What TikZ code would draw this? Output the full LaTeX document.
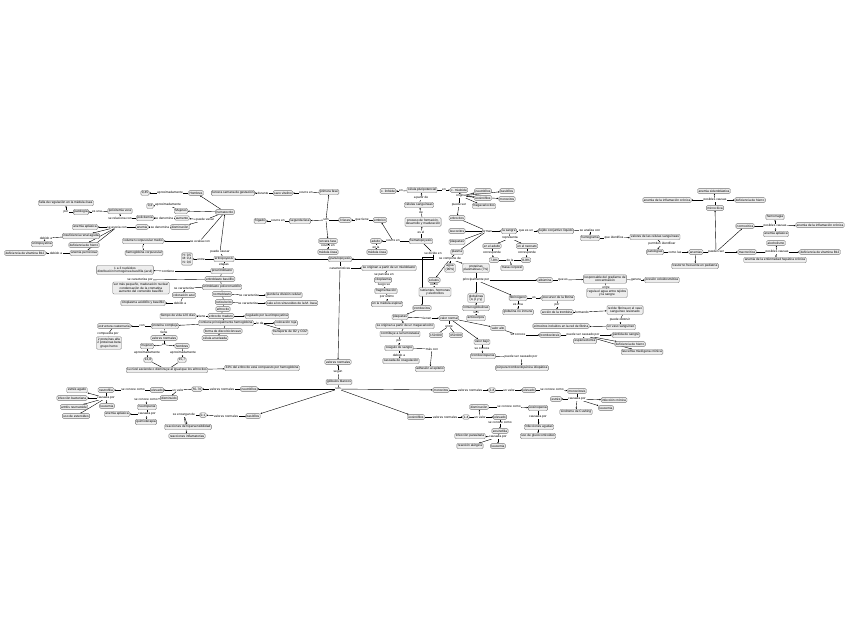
\documentclass[tikz,border=0pt]{standalone}
\usepackage{fontspec}
\setmainfont{Liberation Sans}
\usetikzlibrary{arrows.meta,backgrounds}
\newcommand{\mapfont}{\fontsize{3.2}{3.6}\selectfont}
\begin{document}
\begin{tikzpicture}[x=1pt,y=-1pt,
    concept/.style={draw=black!55,fill=black!7,rounded corners=1.2pt,line width=0.35pt,inner xsep=1pt,inner ysep=1.2pt,font=\mapfont,align=center},
    link/.style={fill=white,inner sep=0.3pt,font=\mapfont,align=center},
    arr/.style={-{Stealth[length=1.6pt,width=1.4pt]}}
  ]
\useasboundingbox (0,0) rectangle (848,638);
% hematocrito y anemias
\node[concept] (falla) at (66,203) {falla de regulación en la médula ósea};
\node[link] (lpor) at (66,212) {por};
\node[concept] (patol) at (81,212) {patología};
\node[link] (lesuna) at (97,212) {es una};
\node[concept] (polv) at (120,211) {policitemia vera};
\node[link] (lrel) at (120,218) {se relaciona con};
\node[concept] (polic) at (145,218) {policitemia};
\node[link] (lden1) at (164,218) {se denomina};
\node[concept] (aum) at (182,218) {aumento};
\node[concept] (dism) at (180,227) {disminución};
\node[link] (lden2) at (160,227) {se denomina};
\node[concept] (anem1) at (142,227) {anemia};
\node[link] (laso) at (117,227) {se asocia con};
\node[concept] (aapl1) at (85,227) {anemia aplásica};
\node[concept] (irenal) at (81,236) {insuficiencia renal aguda};
\node[concept] (dhierro1) at (84,245) {deficiencia de hierro};
\node[concept] (apern) at (84,253) {anemia perniciosa};
\node[link] (ldeb1) at (46,238) {debido a};
\node[concept] (epo) at (42,244) {eritropoyetina};
\node[link] (ldeb2) at (56,253) {debido a};
\node[concept] (b12a) at (25,253) {deficiencia de vitamina B12};
\node[concept] (hto) at (225,212) {hematocrito};
\node[link] (lvar) at (205,220) {puede variar};
\node[concept] (hom) at (196,193) {Hombres};
\node[link] (lap1) at (170,193) {aproximadamente};
\node[concept] (n045) at (145,193) {0,45};
\node[concept] (muj) at (181,211) {Mujeres};
\node[link] (lap2) at (168,205) {aproximadamente};
\node[concept] (n04) at (150,206) {0,4};
\node[link] (lval) at (200,241) {se evalúa con};
\node[concept] (vcm) at (143,241) {volumen corpuscular medio};
\node[link] (ly) at (143,247) {y};
\node[concept] (hcm) at (144,253) {hemoglobina corpuscular};
\node[concept] (rng) at (187,259) {H: 0,5\\M: 0,4\\N: 0,6};
\node[link] (lentre1) at (201,259) {entre};
% eritropoyesis
\node[concept] (eritrop) at (224,259) {eritropoyesis};
\node[link] (lpcau) at (220,252) {puede causar};
\node[link] (letap) at (224,265) {etapas};
\node[concept] (proer) at (222,271) {proeritroblasto};
\node[concept] (ebas) at (220,279) {eritroblasto basófilo};
\node[concept] (epol) at (222,287) {eritroblasto policromatófilo};
\node[concept] (norm) at (222,294) {normoblasto};
\node[concept] (retic) at (224,302) {reticulocito};
\node[concept] (erito) at (223,309) {eritrocito};
\node[concept] (emad) at (221,316) {eritrocito maduro};
\node[concept] (regepo) at (267,316) {regulado por la eritropoyetina};
\node[link] (ltien1) at (202,316) {tiene};
\node[concept] (vida) at (178,316) {tiempo de vida 120 días};
\node[concept] (chb) at (226,323) {contiene principalmente hemoglobina};
\node[link] (lleda) at (260,323) {le da};
\node[concept] (roja) at (286,323) {coloración roja};
\node[concept] (trans) at (290,332) {transporte de O2 y CO2};
\node[concept] (disco) at (223,331) {forma de disco bicóncavo};
\node[concept] (anuc) at (215,338) {célula anucleada};
\node[concept] (nucl) at (125,270) {1 a 3 nucléolos\\distribución homogénea basófila (azul)};
\node[link] (lcont) at (168,271) {contiene};
\node[link] (lcar1) at (140,280) {se caracteriza por};
\node[concept] (peq) at (141,288) {ser más pequeño, maduración nuclear\\condensación de la cromatina\\aumento del contenido basófilo};
\node[link] (lcar2) at (184,288) {se caracteriza};
\node[concept] (azul) at (184,295) {coloración azul};
\node[link] (ldeb3) at (180,303) {debido a};
\node[concept] (acid) at (143,303) {citoplasma acidófilo y basófilo};
\node[link] (lcar3) at (249,295) {se caracteriza};
\node[concept] (pdiv) at (284,295) {pierde la división celular};
\node[link] (lcar4) at (248,303) {se caracteriza};
\node[concept] (sinus) at (292,303) {sale a los sinusoides de la M. ósea};
% hemoglobina
\node[concept] (pcomp) at (165,326) {proteína compleja};
\node[link] (lcon) at (142,326) {con};
\node[concept] (ecuat) at (114,326) {estructura cuaternaria};
\node[link] (lcompp) at (108,334) {compuesta por};
\node[concept] (tri) at (109,343) {2 proteínas alfa\\2 proteínas beta\\grupo hemo};
\node[link] (ltiene2) at (164,332) {tiene};
\node[concept] (vnh) at (164,338) {valores normales};
\node[link] (len3) at (164,345) {en};
\node[concept] (mujh) at (147,346) {mujeres};
\node[concept] (homh) at (182,346) {hombres};
\node[link] (lap3) at (147,353) {aproximadamente};
\node[link] (lap4) at (183,353) {aproximadamente};
\node[concept] (v138) at (148,360) {13,8};
\node[concept] (v157) at (182,360) {15,7};
\node[concept] (niv) at (167,370) {su nivel asciende o disminuye al igual que los eritrocitos};
\node[concept] (c33) at (262,368) {33\% del eritrocito está compuesto por hemoglobina};
% fases
\node[concept] (terc1) at (233,193) {tercera semana de gestación};
\node[link] (ldur) at (263,193) {durante};
\node[concept] (saco) at (283,193) {saco vitelino};
\node[link] (loc1) at (306,193) {ocurre en};
\node[concept] (prim) at (329,192) {primera fase};
\node[concept] (hig) at (260,221) {hígado};
\node[link] (loc2) at (278,221) {ocurre en};
\node[concept] (segf) at (300,221) {segunda fase};
\node[link] (lson1) at (326,220) {son};
\node[concept] (tresf) at (345,220) {3 fases};
\node[link] (lqtiene) at (362,220) {que tiene};
\node[concept] (embr) at (380,220) {embrión};
\node[concept] (tercf) at (328,241) {tercera fase};
\node[link] (loc3) at (328,246) {ocurre en};
\node[concept] (mo1) at (328,252) {médula ósea};
\node[concept] (adul) at (376,241) {adulto};
\node[link] (locA) at (393,241) {ocurre en};
\node[link] (lenla) at (376,247) {en la};
\node[concept] (mo2) at (377,252) {médula ósea};
\node[concept] (hemat) at (421,241) {hematopoyesis};
\node[link] (lesel) at (421,232) {es el};
\node[concept] (proc) at (423,222) {proceso de formación,\\desarrollo y maduración};
\node[link] (lde1) at (421,212) {de};
\node[concept] (csang) at (419,205) {células sanguíneas};
\node[link] (lapd) at (421,198) {a partir de};
\node[concept] (pluri) at (422,190) {célula pluripotencial};
\node[link] (len1) at (401,191) {en};
\node[concept] (lin) at (388,191) {c. linfoide};
\node[link] (len2) at (444,190) {en};
\node[concept] (mie) at (459,190) {c. mieloide};
\node[link] (lorig) at (461,196) {origina};
\node[concept] (neu1) at (483,191) {neutrófilos};
\node[concept] (eos1) at (483,198) {eosinófilos};
\node[concept] (megc) at (484,206) {megacariocitos};
\node[concept] (bas1) at (507,191) {basófilos};
\node[concept] (mon1) at (507,199) {monocitos};
\node[link] (lpser) at (459,205) {puede ser};
\node[concept] (erit) at (457,218) {eritrocitos};
\node[concept] (leuco) at (457,231) {leucocitos};
\node[concept] (plaq1) at (457,242) {plaquetas};
\node[concept] (plasm) at (457,252) {plasma};
% sangre y hemograma
\node[link] (lforman) at (487,231) {forman};
\node[concept] (sangre) at (509,231) {la sangre};
\node[link] (lqes) at (526,231) {que es un};
\node[concept] (tejido) at (556,231) {tejido conjuntivo líquido};
\node[link] (lanal) at (590,230) {se analiza con};
\node[concept] (hgrama) at (590,238) {hemograma};
\node[link] (lident) at (614,238) {que identifica};
\node[concept] (valcs) at (655,237) {valores de las células sanguíneas};
\node[link] (lperm) at (662,244) {permiten identificar};
\node[concept] (patolg) at (655,252) {patologías};
\node[link] (lcomo) at (675,252) {como las};
\node[concept] (anemias) at (696,252) {anemias};
\node[link] (lpser2) at (716,252) {pueden ser};
\node[concept] (micro) at (715,208) {microcítica};
\node[concept] (normo) at (745,226) {normocítica};
\node[concept] (macro) at (747,252) {macrocítica};
\node[link] (lpc1) at (715,200) {posibles causas};
\node[concept] (aic1) at (667,200) {anemia de la inflamación crónica};
\node[concept] (dh3) at (750,200) {deficiencia de hierro};
\node[concept] (sidero) at (714,191) {anemia sideroblástica};
\node[link] (lpc2) at (775,226) {posibles causas};
\node[concept] (hemorr) at (775,217) {hemorragia};
\node[concept] (aic2) at (820,225) {anemia de la inflamación crónica};
\node[concept] (aapl2) at (776,234) {anemia aplásica};
\node[link] (lpc3) at (777,252) {posibles causas};
\node[concept] (alcoh) at (776,243) {alcoholismo};
\node[concept] (b12b) at (820,252) {deficiencia de vitamina B12};
\node[concept] (hepat) at (775,260) {anemia de la enfermedad hepática crónica};
\node[concept] (pedia) at (695,266) {trastorno frecuente en pediatría};
\node[link] (lrepr) at (510,238) {representa};
\node[concept] (enadu) at (492,246) {en el adulto};
\node[concept] (enneo) at (527,246) {en el neonato};
\node[link] (lcor1) at (492,253) {corresponde};
\node[link] (lcor2) at (527,253) {corresponde};
\node[concept] (p78) at (494,260) {7-8\%};
\node[link] (ldela) at (510,260) {de la};
\node[concept] (p89) at (526,260) {8-9\%};
\node[concept] (masa) at (512,268) {masa corporal};
% plasma
\node[link] (lcompn) at (450,259) {se compone de};
\node[concept] (agua) at (450,268) {agua\\(90\%)};
\node[concept] (protp) at (476,268) {proteínas\\plasmáticas (7\%)};
\node[concept] (solut) at (434,280) {solutos};
\node[link] (lcomo2) at (434,285) {como};
\node[concept] (nutr) at (435,292) {nutrientes, hormonas\\y electrolitos};
\node[link] (lprin) at (476,280) {principalmente por};
\node[concept] (albu) at (545,280) {albúmina};
\node[link] (lqes2) at (563,280) {que es};
\node[concept] (grad) at (605,279) {responsable del gradiente de\\concentración};
\node[link] (lgen) at (636,280) {genera};
\node[concept] (presc) at (662,280) {presión coloidosmótica};
\node[link] (lentre3) at (606,287) {entre};
\node[concept] (regu) at (607,293) {regula el agua entre tejidos\\y la sangre};
\node[concept] (globu) at (476,298) {globulinas\\(α, β y γ)};
\node[concept] (inmun) at (476,308) {inmunoglobulinas};
\node[link] (lson2) at (476,313) {son};
\node[concept] (antic) at (476,318) {anticuerpos};
\node[concept] (fibri) at (518,298) {fibrinógeno};
\node[link] (les2) at (534,298) {es};
\node[concept] (precf) at (558,298) {precursor de la fibrina};
\node[link] (lesuna2) at (518,305) {es una};
\node[concept] (gnoin) at (518,312) {globulina no inmune};
\node[link] (lpor3) at (557,305) {por};
\node[concept] (atromb) at (557,312) {acción de la trombina};
\node[link] (lform) at (582,312) {formando};
\node[concept] (redf) at (625,310) {red de fibrina en el vaso\\sanguíneo lesionado};
\node[link] (lobst) at (620,320) {puede obstruir};
\node[concept] (vasos) at (621,327) {un vaso sanguíneo};
\node[concept] (eriin) at (561,326) {eritrocitos incluidos en la red de fibrina};
% granulopoyesis y plaquetas
\node[link] (ldivi) at (433,253) {se divide en};
\node[concept] (granu) at (340,259) {granulopoyesis};
\node[link] (lcarac) at (340,268) {características};
\node[concept] (origen) at (389,268) {se originan a partir de un mieloblasto};
\node[link] (lparc) at (384,275) {se parcela en};
\node[concept] (citop) at (383,280) {citoplasma};
\node[link] (lluego) at (384,285) {luego se};
\node[concept] (fragm) at (386,291) {fragmentación};
\node[link] (lultimo) at (387,297) {por último};
\node[concept] (mespi) at (387,304) {en la médula espinal};
\node[concept] (tromb) at (422,308) {trombocitos};
\node[concept] (plaq2) at (400,317) {plaquetas};
\node[link] (ltienen) at (427,318) {tienen};
\node[concept] (vnorm) at (449,318) {valor normal};
\node[concept] (origm) at (405,326) {se originan a partir de un megacariocito};
\node[link] (lentre4) at (449,326) {entre};
\node[concept] (n150) at (436,335) {150 000};
\node[concept] (n450) at (456,335) {450 000};
\node[concept] (hemost) at (400,334) {contribuye a la hemostasia};
\node[link] (lpor4) at (399,341) {por};
\node[concept] (coagu) at (399,348) {coágulo de sangre};
\node[link] (lmas) at (432,349) {más con};
\node[link] (ldeb4) at (399,355) {debido a};
\node[concept] (casca) at (401,361) {cascada de coagulación};
\node[concept] (adhes) at (430,369) {adhesión al epitelio};
\node[concept] (valto) at (498,328) {valor alto};
\node[link] (lsc1) at (518,335) {se conoce};
\node[concept] (tcito) at (550,335) {trombocitosis};
\node[link] (lcau1) at (583,335) {puede ser causado por};
\node[concept] (perdi) at (626,335) {pérdida de sangre};
\node[concept] (esple) at (585,341) {esplenectomía};
\node[concept] (dh4) at (630,344) {deficiencia de hierro};
\node[concept] (lmcro) at (642,352) {leucemia mielógena crónica};
\node[concept] (vbajo) at (482,342) {valor bajo};
\node[link] (lsc2) at (482,349) {se conoce};
\node[concept] (tpenia) at (483,356) {trombocitopenia};
\node[link] (lcau2) at (521,357) {puede ser causado por};
\node[concept] (purp) at (522,368) {púrpura trombocitopénica idiopática};
% leucocitos
\node[concept] (vnl) at (338,362) {valores normales};
\node[link] (lsegun) at (338,372) {según};
\node[concept] (gblanc) at (339,382) {glóbulos blancos};
\node[link] (lson3) at (338,389) {son};
\node[concept] (neut) at (249,389) {neutrófilos};
\node[link] (lvn1) at (222,389) {valores normales};
\node[concept] (n5570) at (197,389) {55-70};
\node[link] (luv1) at (178,390) {un valor};
\node[concept] (elev1) at (157,390) {elevado};
\node[link] (lscc1) at (133,390) {se conoce como};
\node[concept] (nfilia) at (106,390) {neutrofilia};
\node[link] (lcau3) at (106,398) {causada por};
\node[concept] (estra) at (77,390) {estrés agudo};
\node[concept] (infb) at (72,398) {infección bacteriana};
\node[concept] (artr) at (74,407) {artritis reumatoide};
\node[concept] (ester) at (76,416) {uso de esteroides};
\node[concept] (leuc1) at (107,406) {leucemia};
\node[concept] (dism1) at (169,398) {disminuido};
\node[link] (lscc2) at (146,400) {se conoce como};
\node[concept] (npenia) at (147,407) {neutropenia};
\node[link] (lcau4) at (147,414) {causada por};
\node[concept] (aapl3) at (117,414) {anemia aplásica};
\node[concept] (quimio) at (146,422) {quimioterapia};
\node[concept] (baso) at (253,416) {basófilos};
\node[link] (lvn2) at (226,416) {valores normales};
\node[concept] (n01) at (203,415) {0-1};
\node[link] (lenc) at (184,415) {se encargan de};
\node[concept] (hiper) at (188,427) {reacciones de hipersensibilidad};
\node[concept] (infla) at (187,436) {reacciones inflamatorias};
\node[concept] (eosi) at (416,417) {eosinófilos};
\node[link] (lvn3) at (445,417) {valores normales};
\node[concept] (n14) at (466,417) {1-4};
\node[link] (luv2) at (480,417) {un valor};
\node[concept] (elev2) at (500,417) {elevado};
\node[concept] (dism2) at (479,407) {disminución};
\node[link] (lscc3) at (509,407) {se conoce como};
\node[concept] (epenia) at (538,408) {eosinopenia};
\node[link] (lcau5) at (538,417) {causada por};
\node[concept] (infag) at (539,427) {infecciones agudas};
\node[concept] (gluco) at (538,436) {uso de glucocorticoides};
\node[link] (lscc4) at (500,423) {se conoce como};
\node[concept] (efilia) at (500,431) {eosinofilia};
\node[link] (lcau6) at (498,437) {causada por};
\node[concept] (parasi) at (470,436) {infección parasitaria};
\node[concept] (alerg) at (470,446) {reacción alérgica};
\node[concept] (leuc2) at (498,446) {leucemia};
\node[concept] (mono) at (441,390) {monocitos};
\node[link] (lvn4) at (470,390) {valores normales};
\node[concept] (n28) at (492,390) {2-8};
\node[link] (luv3) at (509,390) {un valor};
\node[concept] (elev3) at (529,390) {elevado};
\node[link] (lscc5) at (552,390) {se conoce como};
\node[concept] (mcitos) at (577,391) {monocitosis};
\node[link] (lcau7) at (577,399) {causada por};
\node[concept] (estre) at (556,399) {estrés};
\node[concept] (icron) at (614,400) {infección crónica};
\node[concept] (leuc3) at (606,408) {leucemia};
\node[concept] (cush) at (576,412) {síndrome de Cushing};

\begin{scope}[on background layer,black!65,line width=0.3pt]
\fill[white] (0,0) rectangle (848,638);
\draw (patol) -- (lpor) edge[arr] (falla);
\draw (polv) -- (lesuna) edge[arr] (patol);
\draw (polic) -- (lrel) edge[arr] (polv);
\draw (aum) -- (lden1) edge[arr] (polic);
\draw (dism) -- (lden2) edge[arr] (anem1);
\draw (anem1) -- (laso) edge[arr] (aapl1) edge[arr] (irenal) edge[arr] (dhierro1) edge[arr] (apern);
\draw (irenal) -- (ldeb1) edge[arr] (epo);
\draw (apern) -- (ldeb2) edge[arr] (b12a);
\draw (hto) -- (lvar) edge[arr] (aum) edge[arr] (dism);
\draw[arr] (hto) -- (hom);
\draw[arr] (hto) -- (muj);
\draw (hom) -- (lap1) edge[arr] (n045);
\draw (muj) -- (lap2) edge[arr] (n04);
\draw (hto) -- (lval) edge[arr] (vcm);
\draw (vcm) -- (ly) edge[arr] (hcm);
\draw (eritrop) -- (lpcau) edge[arr] (hto);
\draw (eritrop) -- (lentre1) edge[arr] (rng);
\draw (eritrop) -- (letap) edge[arr] (proer);
\draw (proer) -- (ebas) -- (epol) -- (norm) -- (retic) -- (erito) -- (emad);
\draw (emad) -- (chb) -- (disco) -- (anuc);
\draw (proer) -- (lcont) edge[arr] (nucl);
\draw (ebas) -- (lcar1) edge[arr] (peq);
\draw (epol) -- (lcar2) edge[arr] (azul);
\draw (azul) -- (ldeb3) edge[arr] (acid);
\draw (norm) -- (lcar3) edge[arr] (pdiv);
\draw (retic) -- (lcar4) edge[arr] (sinus);
\draw (emad) -- (ltien1) edge[arr] (vida);
\draw[arr] (emad) -- (regepo);
\draw (chb) -- (lleda) edge[arr] (roja) edge[arr] (trans);
\draw[arr] (chb) -- (pcomp);
\draw (pcomp) -- (lcon) edge[arr] (ecuat);
\draw (ecuat) -- (lcompp) edge[arr] (tri);
\draw (pcomp) -- (ltiene2) edge[arr] (vnh);
\draw (vnh) -- (len3) edge[arr] (mujh) edge[arr] (homh);
\draw (mujh) -- (lap3) edge[arr] (v138);
\draw (homh) -- (lap4) edge[arr] (v157);
\draw (v138) -- (niv);
\draw (v157) -- (niv);
\draw[arr] (niv) -- (c33);
\draw (saco) -- (ldur) edge[arr] (terc1);
\draw (prim) -- (loc1) edge[arr] (saco);
\draw (segf) -- (loc2) edge[arr] (hig);
\draw (tresf) -- (lson1) edge[arr] (prim) edge[arr] (segf) edge[arr] (tercf);
\draw (embr) -- (lqtiene) edge[arr] (tresf);
\draw (tercf) -- (loc3) edge[arr] (mo1);
\draw (adul) -- (lenla) edge[arr] (mo2);
\draw (hemat) -- (locA) edge[arr] (adul) edge[arr] (embr);
\draw (hemat) -- (lesel) edge[arr] (proc);
\draw (proc) -- (lde1) edge[arr] (csang);
\draw (csang) -- (lapd) edge[arr] (pluri);
\draw (pluri) -- (len1) edge[arr] (lin);
\draw (pluri) -- (len2) edge[arr] (mie);
\draw (mie) -- (lorig) edge[arr] (neu1) edge[arr] (eos1) edge[arr] (megc) edge[arr] (bas1) edge[arr] (mon1);
\draw (mie) -- (lpser) edge[arr] (erit);
\draw (erit) -- (lforman);
\draw (leuco) -- (lforman);
\draw (plaq1) -- (lforman);
\draw (plasm) -- (lforman);
\draw[arr] (lforman) -- (sangre);
\draw (sangre) -- (lqes) edge[arr] (tejido);
\draw (tejido) -- (lanal) edge[arr] (hgrama);
\draw (hgrama) -- (lident) edge[arr] (valcs);
\draw (valcs) -- (lperm) edge[arr] (patolg);
\draw (patolg) -- (lcomo) edge[arr] (anemias);
\draw (anemias) -- (lpser2) edge[arr] (micro) edge[arr] (normo) edge[arr] (macro);
\draw (micro) -- (lpc1) edge[arr] (aic1) edge[arr] (dh3) edge[arr] (sidero);
\draw (normo) -- (lpc2) edge[arr] (hemorr) edge[arr] (aic2) edge[arr] (aapl2);
\draw (macro) -- (lpc3) edge[arr] (alcoh) edge[arr] (b12b) edge[arr] (hepat);
\draw[arr] (anemias) -- (pedia);
\draw (sangre) -- (lrepr) edge[arr] (enadu) edge[arr] (enneo);
\draw (enadu) -- (lcor1) edge[arr] (p78);
\draw (enneo) -- (lcor2) edge[arr] (p89);
\draw (p78) -- (ldela);
\draw (p89) -- (ldela);
\draw[arr] (ldela) -- (masa);
\draw (plasm) -- (lcompn) edge[arr] (agua) edge[arr] (protp) edge[arr] (solut);
\draw (solut) -- (lcomo2) edge[arr] (nutr);
\draw (protp) -- (lprin) edge[arr] (albu) edge[arr] (globu) edge[arr] (fibri);
\draw (albu) -- (lqes2) edge[arr] (grad);
\draw (grad) -- (lgen) edge[arr] (presc);
\draw (grad) -- (lentre3) edge[arr] (regu);
\draw[arr] (globu) -- (inmun);
\draw (inmun) -- (lson2) edge[arr] (antic);
\draw (fibri) -- (les2) edge[arr] (precf);
\draw (fibri) -- (lesuna2) edge[arr] (gnoin);
\draw (precf) -- (lpor3) edge[arr] (atromb);
\draw (atromb) -- (lform) edge[arr] (redf);
\draw (redf) -- (lobst) edge[arr] (vasos);
\draw[arr] (vasos) -- (eriin);
\draw (hemat) -- (ldivi);
\draw[arr] (ldivi) |- (granu);
\draw[arr] (ldivi) |- (eritrop);
\draw[arr] (ldivi.south) -- ++(0,3) -| (tromb);
\draw (granu) -- (lcarac) edge[arr] (origen);
\draw[arr] (lcarac) -- (vnl);
\draw (origen) -- (lparc) edge[arr] (citop);
\draw (citop) -- (lluego) edge[arr] (fragm);
\draw (fragm) -- (lultimo) edge[arr] (mespi);
\draw[arr] (tromb) -- (plaq2);
\draw (plaq2) -- (ltienen) edge[arr] (vnorm);
\draw[arr] (plaq2) -- (origm);
\draw (origm) -- (hemost);
\draw (hemost) -- (lpor4) edge[arr] (coagu);
\draw (coagu) -- (ldeb4) edge[arr] (casca);
\draw (coagu) -- (lmas) edge[arr] (adhes);
\draw (vnorm) -- (lentre4) edge (n150) edge (n450);
\draw[arr] (vnorm) -- (valto);
\draw[arr] (vnorm) -- (vbajo);
\draw (valto) -- (lsc1) edge[arr] (tcito);
\draw (tcito) -- (lcau1) edge[arr] (perdi) edge[arr] (esple) edge[arr] (dh4) edge[arr] (lmcro);
\draw (vbajo) -- (lsc2) edge[arr] (tpenia);
\draw (tpenia) -- (lcau2) edge[arr] (purp);
\draw (gblanc) -- (lsegun) edge[arr] (vnl);
\draw (gblanc) -- (lson3) edge[arr] (neut) edge[arr] (baso) edge[arr] (eosi) edge[arr] (mono);
\draw (neut) -- (lvn1) edge[arr] (n5570);
\draw (n5570) -- (luv1) edge[arr] (elev1) edge[arr] (dism1);
\draw (elev1) -- (lscc1) edge[arr] (nfilia);
\draw (nfilia) -- (lcau3) edge[arr] (estra) edge[arr] (infb) edge[arr] (artr) edge[arr] (ester) edge[arr] (leuc1);
\draw (dism1) -- (lscc2) edge[arr] (npenia);
\draw (npenia) -- (lcau4) edge[arr] (aapl3) edge[arr] (quimio);
\draw (baso) -- (lvn2) edge[arr] (n01);
\draw (n01) -- (lenc) edge[arr] (hiper) edge[arr] (infla);
\draw (eosi) -- (lvn3) edge[arr] (n14);
\draw (n14) -- (luv2) edge[arr] (elev2) edge[arr] (dism2);
\draw (dism2) -- (lscc3) edge[arr] (epenia);
\draw (epenia) -- (lcau5) edge[arr] (infag) edge[arr] (gluco);
\draw (elev2) -- (lscc4) edge[arr] (efilia);
\draw (efilia) -- (lcau6) edge[arr] (parasi) edge[arr] (alerg) edge[arr] (leuc2);
\draw (mono) -- (lvn4) edge[arr] (n28);
\draw (n28) -- (luv3) edge[arr] (elev3);
\draw (elev3) -- (lscc5) edge[arr] (mcitos);
\draw (mcitos) -- (lcau7) edge[arr] (estre) edge[arr] (icron) edge[arr] (leuc3) edge[arr] (cush);
\end{scope}
\end{tikzpicture}
\end{document}
